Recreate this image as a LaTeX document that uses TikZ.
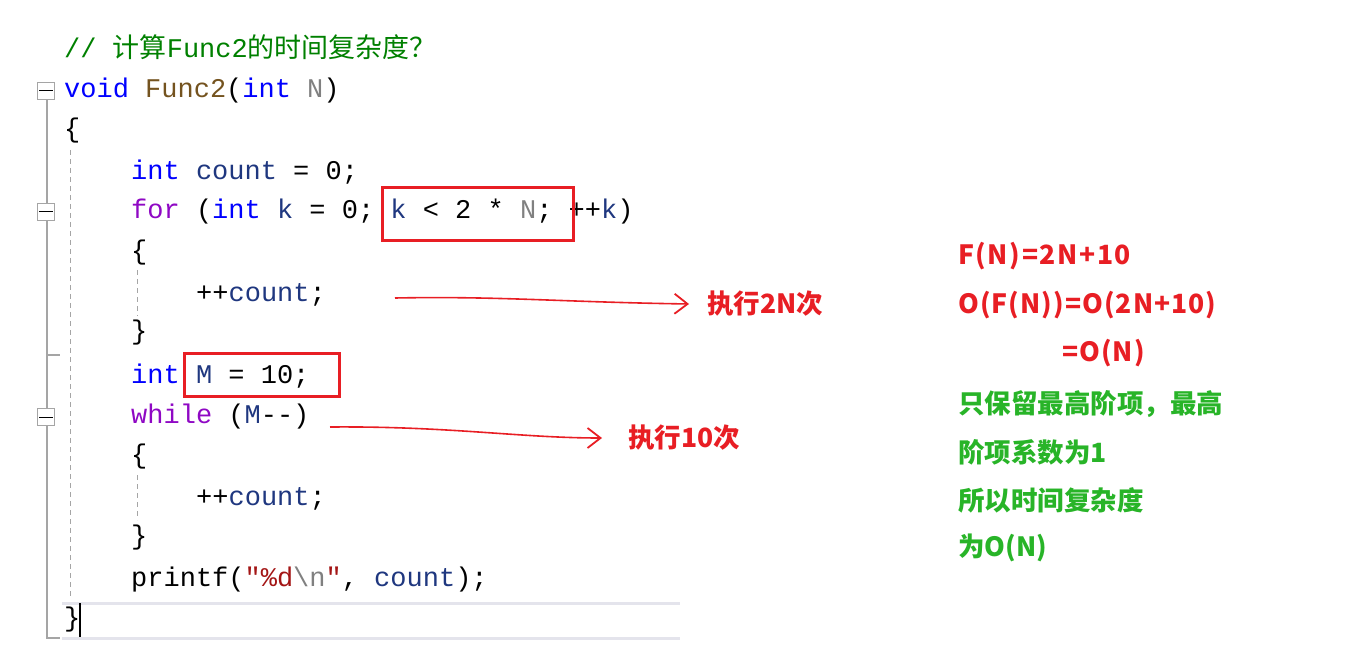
\documentclass[tikz,border=0pt]{standalone}
\usepackage{fontspec}
\setmonofont{Liberation Mono}
\newfontfamily\cjk{Noto Sans CJK SC}
\usetikzlibrary{arrows.meta}
\definecolor{kw}{RGB}{0,0,255}
\definecolor{ctl}{RGB}{143,8,196}
\definecolor{prm}{RGB}{128,128,128}
\definecolor{cmt}{RGB}{0,128,0}
\definecolor{fn}{RGB}{116,83,31}
\definecolor{var}{RGB}{31,55,127}
\definecolor{rd}{RGB}{232,30,36}
\definecolor{gr}{RGB}{40,180,40}
\definecolor{guide}{RGB}{165,165,165}
\newcommand{\K}[1]{\textcolor{kw}{#1}}
\newcommand{\C}[1]{\textcolor{ctl}{#1}}
\newcommand{\Pn}[1]{\textcolor{prm}{#1}}
\newcommand{\V}[1]{\textcolor{var}{#1}}
\begin{document}
\begin{tikzpicture}[x=1pt,y=-1pt,
  code/.style={anchor=west,inner sep=0pt,font=\ttfamily\fontsize{27}{30}\selectfont},
  note/.style={anchor=west,inner sep=0pt,font=\cjk\bfseries\fontsize{26.5}{30}\selectfont},
  rnote/.style={anchor=west,inner sep=0pt,font=\cjk\bfseries\fontsize{26.5}{30}\selectfont},
  redbox/.style={draw=rd,line width=3pt},
  hand/.style={draw=rd,line width=1.6pt,-{Straight Barb[length=13pt,width=20pt,line width=1.8pt]}},
  fold/.style={draw=guide,fill=white,line width=1pt,minimum size=17pt,inner sep=0pt},
  guideline/.style={draw=guide,line width=1.2pt}]
\useasboundingbox (0,0) rectangle (1350,663);
% current line highlight
\draw[draw={rgb,255:red,228;green,228;blue,236},line width=3pt] (62,603) -- (680,603) (62,638) -- (680,638);
% outline guides
\draw[guideline] (47,100) -- (47,638) -- (60,638);
\draw[guideline,dashed,dash pattern=on 5pt off 4pt,line width=1pt] (70,150) -- (70,598);
\draw[guideline,dashed,dash pattern=on 5pt off 4pt,line width=1pt] (137,270) -- (137,316);
\draw[guideline,dashed,dash pattern=on 5pt off 4pt,line width=1pt] (137,475) -- (137,520);
\draw[guideline] (47,355) -- (60,355);
\foreach \n/\yy in {f1/91,f2/212,f3/417}{
  \node[fold] (\n) at (46,\yy) {};
  \draw[black,line width=1pt] (39,\yy) -- (53,\yy);
}
% code
\node[code] (l0) at (64,47) {\textcolor{cmt}{// {\cjk 计算}Func2{\cjk 的时间复杂度？}}};
\node[code] (l1) at (64,91) {\K{void} \textcolor{fn}{Func2}(\K{int} \Pn{N})};
\node[code] (l2) at (64,131) {\{};
\node[code] (l3) at (131,172) {\K{int} \V{count} = 0;};
\node[code] (l4) at (131,212) {\C{for} (\K{int} \V{k} = 0; \V{k} < 2 * \Pn{N}; ++\V{k})};
\node[code] (l5) at (131,253) {\{};
\node[code] (l6) at (196,295) {++\V{count};};
\node[code] (l7) at (131,333) {\}};
\node[code] (l8) at (131,376) {\K{int} \V{M} = 10;};
\node[code] (l9) at (131,417) {\C{while} (\V{M}-{}-)};
\node[code] (l10) at (131,457) {\{};
\node[code] (l11) at (196,499) {++\V{count};};
\node[code] (l12) at (131,538) {\}};
\node[code] (l13) at (131,580) {printf(\textcolor{rgb,255:red,163;green,21;blue,21}{"\%d\textcolor{prm}{\textbackslash n}"}, \V{count});};
\node[code] (l14) at (64,620) {\}};
\draw[black,line width=1.5pt] (80,603) -- (80,637);
% red boxes
\node[redbox,minimum width=191pt,minimum height=53pt] (b1) at (477.5,214.5) {};
\node[redbox,minimum width=155pt,minimum height=43pt] (b2) at (261.5,374.5) {};
% annotations
\node[note,text=rd] (t1) at (707,304) {执行2N次};
\node[note,text=rd] (t2) at (628,438) {执行10次};
\coordinate (a1s) at (395,298);
\coordinate (a2s) at (330,427);
\draw[hand] (a1s) .. controls (500,296) and (560,302) .. ([xshift=-18pt]t1.west);
\draw[hand] (a2s) .. controls (450,426) and (520,438) .. ([xshift=-26pt]t2.west);
\node[rnote,text=rd,font=\cjk\bfseries\fontsize{26.5}{30}\selectfont\addfontfeatures{LetterSpace=6}] (r1) at (958,256) {F(N)=2N+10};
\node[rnote,text=rd,font=\cjk\bfseries\fontsize{26.5}{30}\selectfont\addfontfeatures{LetterSpace=4}] (r2) at (958,305) {O(F(N))=O(2N+10)};
\node[rnote,text=rd,font=\cjk\bfseries\fontsize{26.5}{30}\selectfont\addfontfeatures{LetterSpace=4}] (r3) at (1062,353) {=O(N)};
\node[rnote,text=gr] (r4) at (958,404) {只保留最高阶项，最高};
\node[rnote,text=gr] (r5) at (958,452) {阶项系数为1};
\node[rnote,text=gr] (r6) at (958,500) {所以时间复杂度};
\node[rnote,text=gr] (r7) at (958,548) {为O(N)};
\end{tikzpicture}
\end{document}
